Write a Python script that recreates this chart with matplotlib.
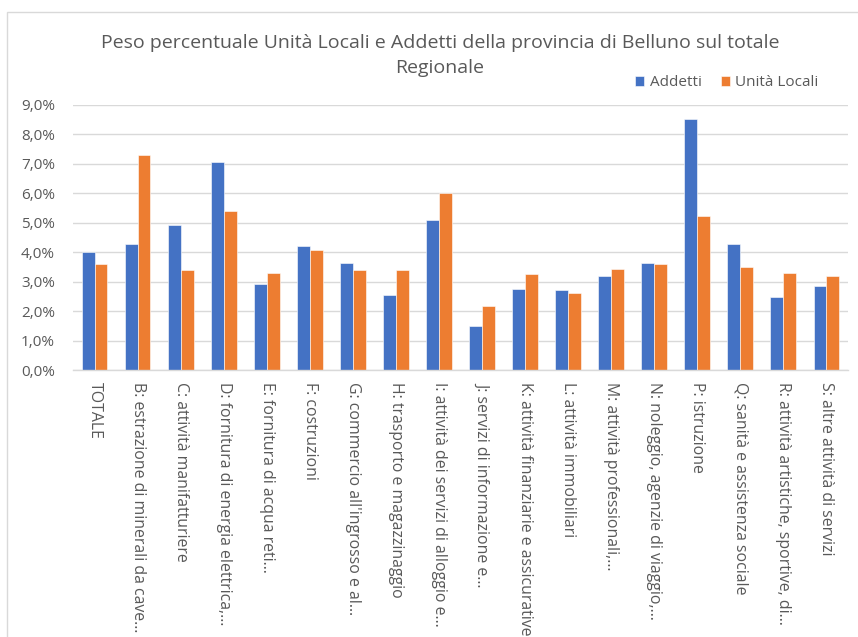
import matplotlib
matplotlib.use("Agg")
import matplotlib.pyplot as plt
import numpy as np
from matplotlib.ticker import FuncFormatter, MultipleLocator
from matplotlib.patches import Rectangle

plt.rcParams["font.family"] = ["Open Sans", "DejaVu Sans"]

categories = [
    "TOTALE",
    "B: estrazione di minerali da cave…",
    "C: attività manifatturiere",
    "D: fornitura di energia elettrica,…",
    "E: fornitura di acqua reti…",
    "F: costruzioni",
    "G: commercio all'ingrosso e al…",
    "H: trasporto e magazzinaggio",
    "I: attività dei servizi di alloggio e…",
    "J: servizi di informazione e…",
    "K: attività finanziarie e assicurative",
    "L: attività immobiliari",
    "M: attività professionali,…",
    "N: noleggio, agenzie di viaggio,…",
    "P: istruzione",
    "Q: sanità e assistenza sociale",
    "R: attività artistiche, sportive, di…",
    "S: altre attività di servizi",
]

# Percent share of the province over the regional total
addetti = [4.02, 4.28, 4.91, 7.05, 2.93, 4.20, 3.63, 2.54, 5.10, 1.48,
           2.75, 2.72, 3.19, 3.65, 8.52, 4.27, 2.47, 2.84]
unita_locali = [3.60, 7.30, 3.39, 5.40, 3.31, 4.06, 3.39, 3.39, 6.01, 2.18,
                3.26, 2.63, 3.43, 3.60, 5.22, 3.50, 3.28, 3.20]

series_names = ["Addetti", "Unità Locali"]
colors = ["#4472C4", "#ED7D31"]
text_color = "#595959"
grid_color = "#D9D9D9"
small_fs = 11
cat_fs = 11.4
title_fs = 14

W, H = 858, 637
fig = plt.figure(figsize=(W / 100, H / 100), dpi=100)
fig.patch.set_facecolor("white")

# Chart area frame
fig.add_artist(Rectangle((7 / W, -0.05), 1.1, 1 - 12 / H + 0.05,
                         transform=fig.transFigure, fill=False,
                         edgecolor=grid_color, linewidth=1.0))

ax = fig.add_axes([73 / W, 1 - 370 / H, (848 - 73) / W, (370 - 105) / H])

x = np.arange(len(categories))
bw = 0.30
ax.bar(x - bw / 2, addetti, width=bw, color=colors[0], label=series_names[0],
       edgecolor="white", linewidth=0.4, zorder=3)
ax.bar(x + bw / 2, unita_locali, width=bw, color=colors[1], label=series_names[1],
       edgecolor="white", linewidth=0.4, zorder=3)

ax.set_xlim(-0.5, len(categories) - 0.5)
ax.set_ylim(0, 9)
ax.yaxis.set_major_locator(MultipleLocator(1))
ax.yaxis.set_major_formatter(FuncFormatter(lambda v, p: f"{v:.1f}%".replace(".", ",")))
ax.grid(axis="y", color=grid_color, linewidth=1.0, zorder=0)
ax.set_axisbelow(True)

for s in ["top", "right", "left"]:
    ax.spines[s].set_visible(False)
ax.spines["bottom"].set_color(grid_color)
ax.spines["bottom"].set_linewidth(1.0)
ax.spines["bottom"].set_zorder(4)

ax.set_xticks(x)
ax.set_xticklabels(categories, rotation=-90, ha="center", va="top",
                   fontsize=cat_fs, color=text_color)
ax.tick_params(axis="x", length=0, pad=9)
ax.tick_params(axis="y", length=0, pad=13, labelsize=small_fs, labelcolor=text_color)

fig.text(440 / W, 1 - 43 / H,
         "Peso percentuale Unità Locali e Addetti della provincia di Belluno sul totale",
         ha="center", va="center", fontsize=title_fs, color=text_color)
fig.text(440 / W, 1 - 68 / H, "Regionale",
         ha="center", va="center", fontsize=title_fs, color=text_color)

leg = fig.legend(loc="center", bbox_to_anchor=(727 / W, 1 - 83 / H), ncol=2,
                 frameon=False, fontsize=small_fs, handlelength=0.6, handleheight=0.6,
                 handletextpad=0.33, columnspacing=1.3, borderaxespad=0)
for t in leg.get_texts():
    t.set_color(text_color)

fig.savefig("out.png", dpi=100, facecolor="white")
